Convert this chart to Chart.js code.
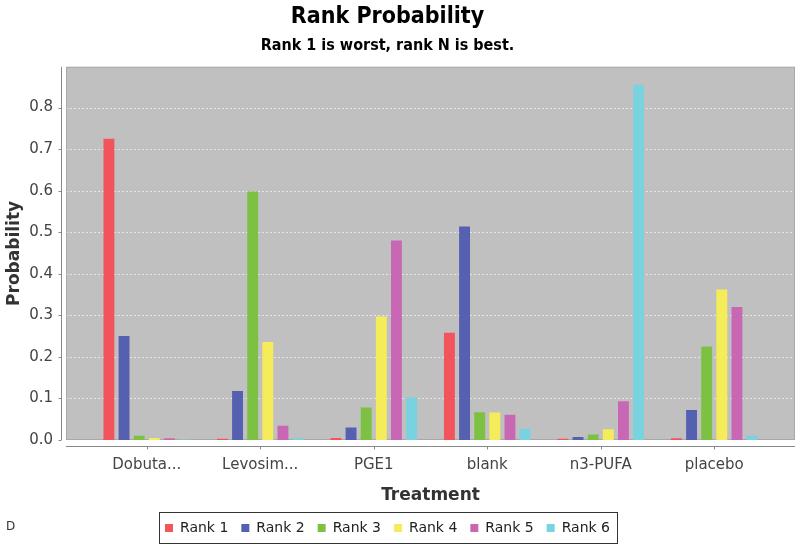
<!DOCTYPE html>
<html>
<head>
<meta charset="utf-8">
<script src="https://cdn.jsdelivr.net/npm/chart.js@4.4.1/dist/chart.umd.min.js"></script>
<style>
  body { margin: 0; background: #fff; }
  #wrap { position: relative; width: 800px; height: 549px; }
  #panel { position: absolute; left: 6px; top: 519px; font: 12px 'DejaVu Sans', sans-serif; color: #333; }
</style>
</head>
<body>
<div id="wrap">
  <canvas id="rankChart" width="800" height="549"></canvas>
  <div id="panel">D</div>
</div>
<script>
const treatments = ['Dobuta...', 'Levosim...', 'PGE1', 'blank', 'n3-PUFA', 'placebo'];
const rankNames = ['Rank 1', 'Rank 2', 'Rank 3', 'Rank 4', 'Rank 5', 'Rank 6'];
const rankColors = ['#f2545b', '#5560b0', '#7dc143', '#f5ec5a', '#c868b4', '#78d2e0'];

const rank1 = [0.725, 0.003, 0.005, 0.258, 0.003, 0.004];
const rank2 = [0.250, 0.118, 0.030, 0.514, 0.007, 0.072];
const rank3 = [0.010, 0.598, 0.078, 0.067, 0.013, 0.225];
const rank4 = [0.005, 0.236, 0.297, 0.066, 0.026, 0.362];
const rank5 = [0.004, 0.034, 0.480, 0.061, 0.093, 0.320];
const rank6 = [0.001, 0.004, 0.102, 0.027, 0.855, 0.010];

const yMax = 0.898;
const yTicks = [0, 0.1, 0.2, 0.3, 0.4, 0.5, 0.6, 0.7, 0.8];

// JFreeChart style plot: grey box wider than the category range
const PLOT_MARGIN = 24;

const plotBackground = {
    id: 'plotBackground',
    beforeDatasetsDraw(chart) {
        const ctx = chart.ctx;
        const a = chart.chartArea;
        const y = chart.scales.y;
        const left = a.left - PLOT_MARGIN;
        const right = a.right + PLOT_MARGIN;
        ctx.save();
        ctx.fillStyle = '#c0c0c0';
        ctx.fillRect(left, a.top, right - left, a.bottom - a.top);
        ctx.strokeStyle = '#e6e6e6';
        ctx.lineWidth = 1;
        ctx.setLineDash([2, 2]);
        y.ticks.forEach(t => {
            if (t.value <= 0) return;
            const py = Math.round(y.getPixelForValue(t.value)) + 0.5;
            ctx.beginPath();
            ctx.moveTo(left, py);
            ctx.lineTo(right, py);
            ctx.stroke();
        });
        ctx.setLineDash([]);
        ctx.strokeStyle = '#a8a8a8';
        ctx.strokeRect(left + 0.5, a.top + 0.5, right - left - 1, a.bottom - a.top - 1);
        ctx.restore();
    },
    afterDraw(chart) {
        const ctx = chart.ctx;
        const a = chart.chartArea;
        const x = chart.scales.x;
        const y = chart.scales.y;
        const left = a.left - PLOT_MARGIN;
        const right = a.right + PLOT_MARGIN;
        ctx.save();
        ctx.strokeStyle = '#888';
        ctx.lineWidth = 1;
        // y axis
        const ax = left - 4.5;
        ctx.beginPath();
        ctx.moveTo(ax, a.top);
        ctx.lineTo(ax, a.bottom);
        y.ticks.forEach(t => {
            const py = Math.round(y.getPixelForValue(t.value)) + 0.5;
            ctx.moveTo(ax - 3, py);
            ctx.lineTo(ax, py);
        });
        ctx.stroke();
        // x axis
        const ay = a.bottom + 6.5;
        ctx.beginPath();
        ctx.moveTo(left, ay);
        ctx.lineTo(right, ay);
        treatments.forEach((_, i) => {
            const px = Math.round(x.getPixelForValue(i)) + 0.5;
            ctx.moveTo(px, ay);
            ctx.lineTo(px, ay + 3);
        });
        ctx.stroke();
        // legend frame
        const boxes = chart.legend.legendHitBoxes;
        if (boxes && boxes.length) {
            const first = boxes[0];
            const last = boxes[boxes.length - 1];
            const l = first.left - 6;
            const r = last.left + last.width + 7;
            const t = first.top - 9;
            const b = first.top + first.height + 8;
            ctx.strokeStyle = '#333';
            ctx.strokeRect(Math.round(l) + 0.5, Math.round(t) + 0.5, Math.round(r - l), Math.round(b - t));
        }
        ctx.restore();
    }
};

const datasets = [rank1, rank2, rank3, rank4, rank5, rank6].map((values, i) => ({
    label: rankNames[i],
    data: values,
    backgroundColor: rankColors[i],
    borderWidth: 0,
    categoryPercentage: 0.8,
    barPercentage: 0.72
}));

new Chart(document.getElementById('rankChart').getContext('2d'), {
    type: 'bar',
    data: {
        labels: treatments,
        datasets: datasets
    },
    plugins: [plotBackground],
    options: {
        responsive: false,
        animation: false,
        layout: {
            padding: { left: 4, right: 29, top: 0, bottom: 4 }
        },
        plugins: {
            title: {
                display: true,
                text: 'Rank Probability',
                color: '#000',
                font: { family: "'Liberation Sans Narrow', 'DejaVu Sans Condensed', sans-serif", size: 23, weight: 'bold' },
                padding: { top: 3, bottom: 0 }
            },
            subtitle: {
                display: true,
                text: 'Rank 1 is worst, rank N is best.',
                color: '#000',
                font: { family: "'Liberation Sans Narrow', 'DejaVu Sans Condensed', sans-serif", size: 16, weight: 'bold' },
                padding: { top: 6, bottom: 11 }
            },
            legend: {
                position: 'bottom',
                labels: {
                    color: '#222',
                    font: { family: "'DejaVu Sans', sans-serif", size: 14 },
                    boxWidth: 8,
                    boxHeight: 8,
                    padding: 13
                }
            },
            tooltip: { enabled: false }
        },
        scales: {
            x: {
                grid: { display: false, tickLength: 0 },
                border: { display: false },
                afterFit(scale) {
                    scale.height = 68;
                },
                ticks: {
                    color: '#444',
                    font: { family: "'DejaVu Sans', sans-serif", size: 15 },
                    padding: 16,
                    maxRotation: 0,
                    autoSkip: false
                },
                title: {
                    display: true,
                    text: 'Treatment',
                    color: '#333',
                    font: { family: "'DejaVu Sans', sans-serif", size: 17, weight: 'bold' },
                    padding: { top: 0, bottom: 2 }
                }
            },
            y: {
                min: 0,
                max: yMax,
                grid: { display: false, tickLength: 0 },
                border: { display: false },
                afterBuildTicks(scale) {
                    scale.ticks = yTicks.map(v => ({ value: v }));
                },
                afterFit(scale) {
                    scale.width = 86;
                },
                ticks: {
                    color: '#444',
                    font: { family: "'DejaVu Sans', sans-serif", size: 15 },
                    padding: 37,
                    callback: v => v.toFixed(1)
                },
                title: {
                    display: true,
                    text: 'Probability',
                    color: '#333',
                    font: { family: "'DejaVu Sans', sans-serif", size: 17, weight: 'bold' },
                    padding: { top: 0, bottom: 0 }
                }
            }
        }
    }
});
</script>
</body>
</html>
